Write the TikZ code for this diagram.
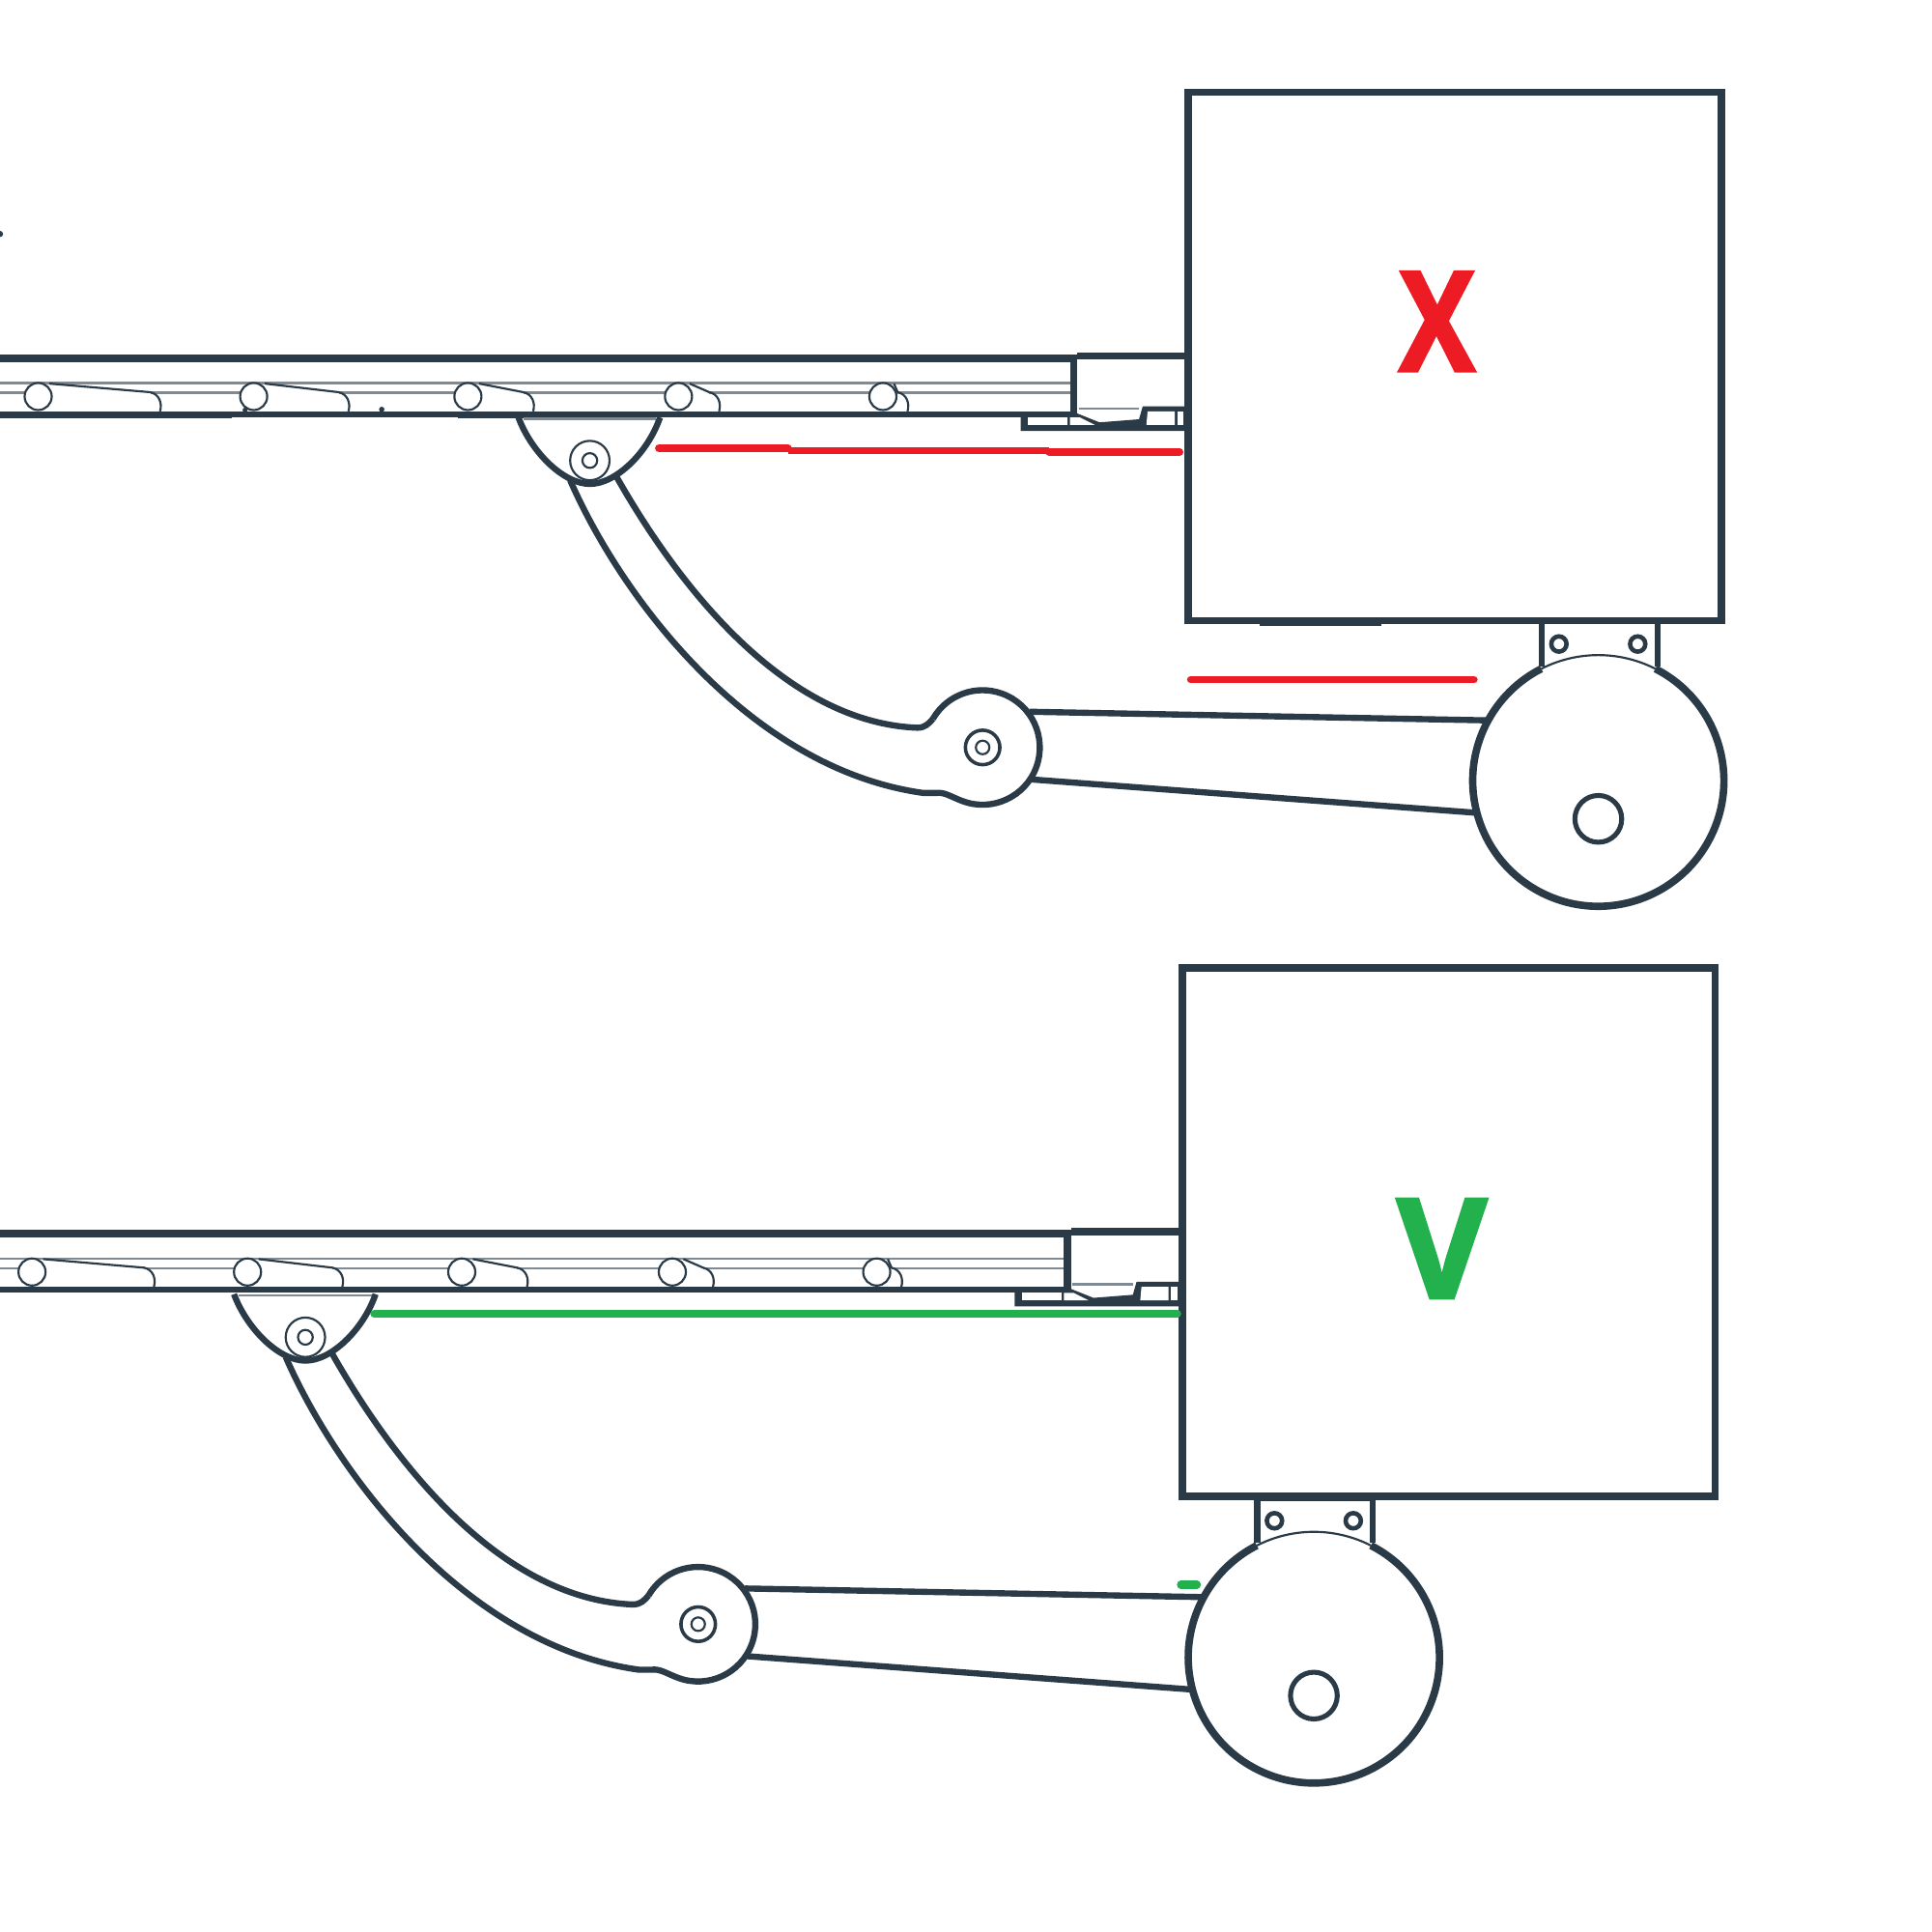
\documentclass[tikz,border=0pt]{standalone}
\usepackage{fontspec}
\newfontfamily\labelfont{Open Sans}[BoldFeatures={FakeBold=2}]
\definecolor{ink}{HTML}{2A3B47}
\definecolor{inkgray}{HTML}{7F8A92}
\definecolor{mred}{HTML}{ED1C24}
\definecolor{mgreen}{HTML}{22B14C}
\tikzset{
  heavy/.style={draw=ink,line width=6pt},
  medium/.style={draw=ink,line width=5pt},
  thinl/.style={draw=ink,line width=1.7pt},
  grayl/.style={draw=inkgray,line width=1.8pt},
  redmark/.style={draw=mred,line width=6pt},
  greenmark/.style={draw=mgreen,line width=6.5pt,line cap=round},
  biglabel/.style={inner sep=0pt,font=\labelfont\bfseries\fontsize{113}{113}\selectfont}
}
\newcommand{\roller}[3]{%
  \draw[thinl] (#1,322) circle[radius=11];
  \draw[thinl] (#1+9,311.5) -- (#2,318.5) .. controls (#2+7,320) and (#2+10,327) .. (#2+8,#3);
}
\newcommand{\railpart}{%
  \draw[grayl] (0,311) -- (870,311);
  \draw[grayl] (0,319) -- (870,319);
  \draw[heavy] (0,291) -- (873,291);
  \draw[draw=ink,line width=4.5pt] (0,336.5) -- (873,336.5);
  \foreach \xa/\xb in {31/122,206/275,380/425,551/576,717/729}{
    \fill[white] (\xa,312) rectangle (\xb,334);
    \fill[white] (\xa,322) circle[radius=11];
  }
  \roller{31}{122}{334}
  \roller{206}{275}{334}
  \roller{380}{425}{334}
  \roller{551}{576}{334}
  \roller{717}{729}{334}
  % end block
  \draw[heavy] (875,289) -- (963,289);
  \draw[heavy] (872,288) -- (872,336);
  \draw[grayl] (876,332) -- (925,332);
  \fill[ink] (829,335) -- (873,335) -- (893,343) -- (925,340.5) -- (928,330) -- (963,330) -- (963,350) -- (829,350) -- cycle;
  \fill[white] (835,339) rectangle (867,345);
  \fill[white] (869,339) -- (877,339) -- (889,345) -- (869,345) -- cycle;
  \fill[white] (932,334) -- (954,334) -- (954,345) -- (931,345) -- cycle;
  \fill[white] (956,334) rectangle (961,345);
}
\newcommand{\armpart}{%
  \draw[grayl] (425,340) -- (533,340);
  \draw[medium] (421,339) .. controls (432,368) and (458,393) .. (479,393) .. controls (500,393) and (526,368) .. (536,339);
  \draw[thinl] (479,374) circle[radius=16];
  \draw[thinl] (479,374) circle[radius=6];
  \draw[medium] (463,390) .. controls (507,490) and (612,625) .. (750,644) -- (760,644) .. controls (767,643) and (772,647) .. (782,650.7)
     arc[start angle=110,end angle=-150,radius=46.5];
  \draw[medium] (500,386) .. controls (556,485) and (642,587) .. (745,591) .. controls (751,591) and (754,588) .. (757.7,583.7);
  \draw[medium] (836,578) -- (1208,585);
  \draw[medium] (838,633) -- (1198,660);
  \draw[draw=ink,line width=2.8pt] (798,607) circle[radius=14];
  \draw[draw=ink,line width=1.7pt] (798,607) circle[radius=5.5];
  \draw[medium] (1252,506) -- (1252,541);
  \draw[medium] (1346,506) -- (1346,541);
  \draw[draw=ink,line width=3.6pt] (1266,523) circle[radius=6.2];
  \draw[draw=ink,line width=3.6pt] (1330,523) circle[radius=6.2];
  \draw[heavy] (1298,634) ++(297:102) arc[start angle=297,end angle=603,radius=102];
  \draw[thinl] (1298,634) ++(243:102) arc[start angle=243,end angle=297,radius=102];
  \draw[draw=ink,line width=4pt] (1298,665) circle[radius=19];
}
\newcommand{\boxpart}{%
  \draw[heavy] (965,75) rectangle (1398,504);
  \draw[draw=ink,line width=2pt] (1023,507) -- (1122,507);
}
\begin{document}
\begin{tikzpicture}[x=1pt,y=1pt,yscale=-1]
\useasboundingbox (0,0) rectangle (1569,1569);
\fill[white] (0,0) rectangle (1569,1569);
% upper figure
\railpart
\fill[ink] (310,332.5) circle[radius=2.2];
\fill[ink] (199,333) circle[radius=2];
\fill[ink] (0,190) circle[radius=2.5];
\draw[draw=ink,line width=1.5pt] (0,339) -- (188,339);
\draw[draw=ink,line width=1.5pt] (372,339) -- (425,339);
\boxpart
\armpart
\draw[redmark,line cap=round] (535,364) -- (640,364);
\draw[redmark] (640,366) -- (852,366);
\draw[redmark,line cap=round] (852,367) -- (958,367);
\draw[draw=mred,line width=6pt,line cap=round] (967,552) -- (1197,552);
\node[biglabel,text=mred] (xmark) at (1167,261) {\scalebox{0.82}[1]{X}};
% lower figure
\begin{scope}[shift={(-5,711)}]
  \railpart
  \boxpart
\end{scope}
\begin{scope}[shift={(-231,712)}]
  \armpart
\end{scope}
\draw[greenmark] (304,1067) -- (956,1067);
\draw[greenmark] (959,1287) -- (972,1287);
\node[biglabel,text=mgreen] (vmark) at (1171,1014) {V};
\end{tikzpicture}
\end{document}
